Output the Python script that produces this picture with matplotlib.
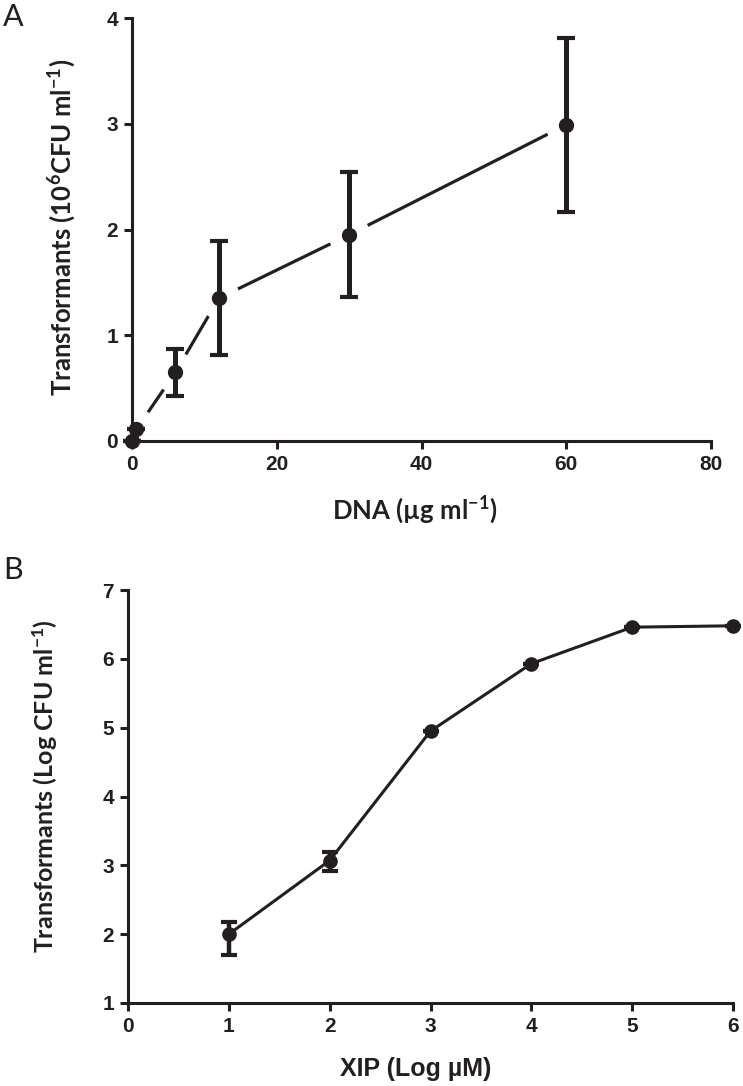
import matplotlib
matplotlib.use("Agg")
import matplotlib.pyplot as plt

# panel A: transformants vs DNA concentration
dna = [0, 0.6, 6, 12, 30, 60]
transf_a = [0.0, 0.11, 0.65, 1.35, 1.95, 2.99]
err_a = [0.0, 0.0, 0.22, 0.54, 0.59, 0.82]

# panel B: log transformants vs log XIP
xip = [1, 2, 3, 4, 5, 6]
transf_b = [2.00, 3.07, 4.95, 5.93, 6.46, 6.48]
err_b_low = [0.30, 0.15, 0.0, 0.0, 0.0, 0.0]
err_b_high = [0.18, 0.12, 0.0, 0.0, 0.0, 0.0]

ink = "#231f20"
plt.rcParams["mathtext.fontset"] = "custom"
plt.rcParams["mathtext.rm"] = "Lato:bold"
plt.rcParams["mathtext.default"] = "rm"

W, H = 743, 1086
fig = plt.figure(figsize=(W / 100, H / 100), dpi=100)

def px_axes(left, right, top, bottom):
    return fig.add_axes([left / W, 1 - bottom / H, (right - left) / W, (bottom - top) / H])

def style(ax):
    for s in ["top", "right"]:
        ax.spines[s].set_visible(False)
    for s in ["left", "bottom"]:
        ax.spines[s].set_linewidth(2.2)
        ax.spines[s].set_color(ink)
    ax.tick_params(direction="out", length=6, width=2.2, color=ink, pad=4)
    for lab in ax.get_xticklabels() + ax.get_yticklabels():
        lab.set_fontfamily("Liberation Sans")
        lab.set_fontweight("bold")
        lab.set_fontsize(15)
        lab.set_color(ink)

# ---- A ----
axA = px_axes(132, 711, 18, 441)
# connecting line with gaps around the points (white halo markers)
axA.plot(dna, transf_a, color=ink, lw=2.3, marker="o", ms=29,
         mfc="white", mec="white", zorder=2)
axA.errorbar(dna, transf_a, yerr=err_a, fmt="o", color=ink, ms=10,
             elinewidth=3.6, capsize=6.5, capthick=3, zorder=3, clip_on=False)
axA.set_xlim(0, 80)
axA.set_ylim(0, 4)
axA.set_xticks([0, 20, 40, 60, 80])
axA.set_yticks([0, 1, 2, 3, 4])
style(axA)
axA.set_xlabel("DNA (µg ml$^{-1}$)", fontfamily="Lato", fontweight="bold",
               fontsize=18.5, color=ink, va="center")
axA.xaxis.set_label_coords(0.489, -0.163)
axA.set_ylabel("Transformants (10$^{6}$CFU ml$^{-1}$)", fontfamily="Lato",
               fontweight="bold", fontsize=18.5, color=ink, va="center")
axA.yaxis.set_label_coords(-0.121, 0.504)

# ---- B ----
axB = px_axes(128, 733, 590, 1003)
axB.errorbar(xip, transf_b, yerr=[err_b_low, err_b_high], fmt="-o", color=ink,
             lw=2.2, ms=9.5, elinewidth=3.2, capsize=5.5, capthick=3,
             zorder=3, clip_on=False)
axB.set_xlim(0, 6)
axB.set_ylim(1, 7)
axB.set_xticks(range(0, 7))
axB.set_yticks(range(1, 8))
style(axB)
axB.set_xlabel("XIP (Log µM)", fontfamily="Liberation Sans", fontweight="bold",
               fontsize=18, color=ink, va="center")
axB.xaxis.set_label_coords(0.476, -0.16)
axB.set_ylabel("Transformants (Log CFU ml$^{-1}$)", fontfamily="Lato",
               fontweight="bold", fontsize=18, color=ink, va="center")
axB.yaxis.set_label_coords(-0.137, 0.525)

fig.text(3 / W, 1 - 3 / H, "A", fontfamily="Lato", fontsize=22, va="top", ha="left", color=ink)
fig.text(3 / W, 1 - 556 / H, "B", fontfamily="Lato", fontsize=22, va="top", ha="left", color=ink)

fig.savefig("out.png", dpi=100)
